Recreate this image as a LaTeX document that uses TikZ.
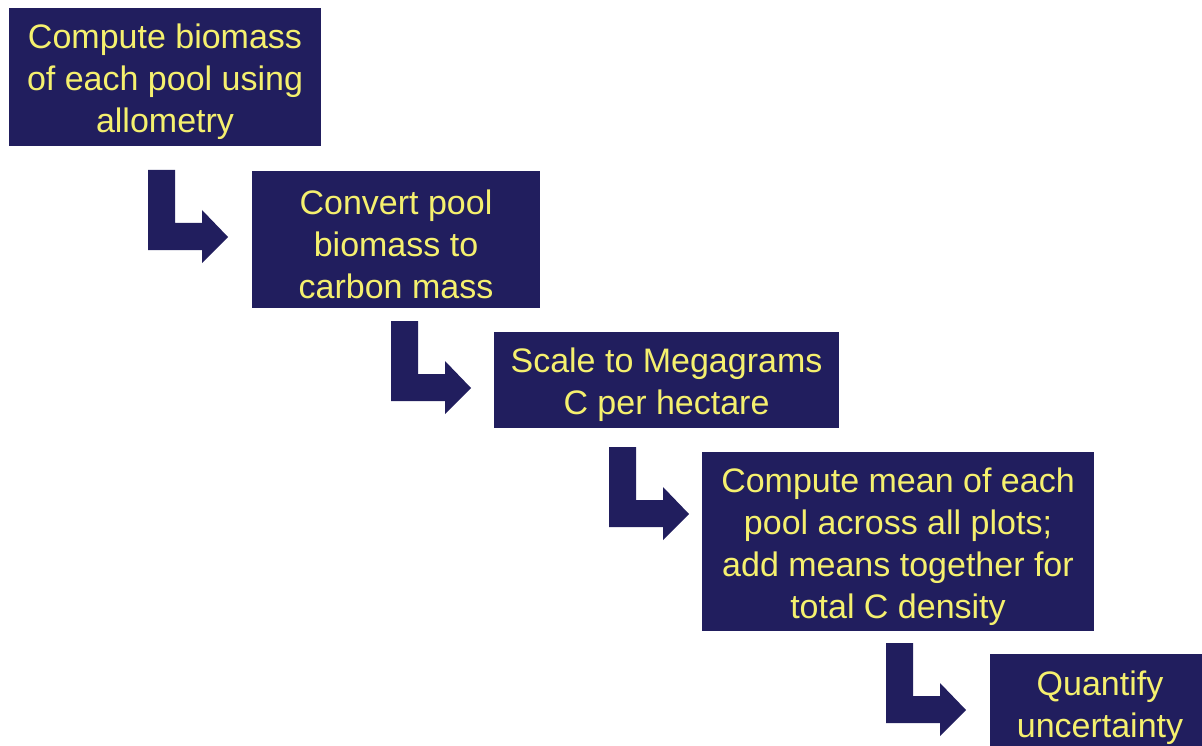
\documentclass[tikz,border=0pt]{standalone}
\usepackage{fontspec}
\setmainfont{Liberation Sans}
\definecolor{navy}{RGB}{33,30,94}
\definecolor{txtyellow}{RGB}{245,240,110}
\tikzset{
  stepbox/.style={fill=navy, inner sep=0pt},
  steptext/.style={text=txtyellow, inner sep=0pt, align=center,
    font=\fontsize{34}{42}\selectfont},
  larrow/.pic={\fill[navy] (0,0) -- (27,0) -- (27,53) -- (54,53) -- (54,40) -- (80,67) -- (54,93) -- (54,80) -- (0,80) -- cycle;}
}
\begin{document}
\begin{tikzpicture}[x=1pt,y=-1pt]
\useasboundingbox (0,0) rectangle (1202,746);
\clip (0,0) rectangle (1202,746);
\node[stepbox, minimum width=312pt, minimum height=138pt] (b1) at (165,77) {};
\node[steptext] (t1) at ([yshift=-5pt]b1.center)
  {Compute biomass\\of each pool using\\allometry};
\node[stepbox, minimum width=288pt, minimum height=137pt] (b2) at (396,239.5) {};
\node[steptext] (t2) at ([yshift=-5pt]b2.center)
  {Convert pool\\biomass to\\carbon mass};
\node[stepbox, minimum width=345pt, minimum height=96pt] (b3) at (666.5,380) {};
\node[steptext] (t3) at ([yshift=-5pt]b3.center)
  {Scale to Megagrams\\C per hectare};
\node[stepbox, minimum width=392pt, minimum height=179pt] (b4) at (898,541.5) {};
\node[steptext] (t4) at ([yshift=-5pt]b4.center)
  {Compute mean of each\\pool across all plots;\\add means together for\\total C density};
\node[stepbox, minimum width=220pt, minimum height=96pt] (b5) at (1100,702) {};
\node[steptext] (t5) at ([yshift=-6pt]b5.center)
  {Quantify\\uncertainty};
\coordinate (a1) at (148,170);
\coordinate (a2) at (391,321);
\coordinate (a3) at (609,447);
\coordinate (a4) at (886,643);
\pic at (a1) {larrow};
\pic at (a2) {larrow};
\pic at (a3) {larrow};
\pic at (a4) {larrow};
\end{tikzpicture}
\end{document}
